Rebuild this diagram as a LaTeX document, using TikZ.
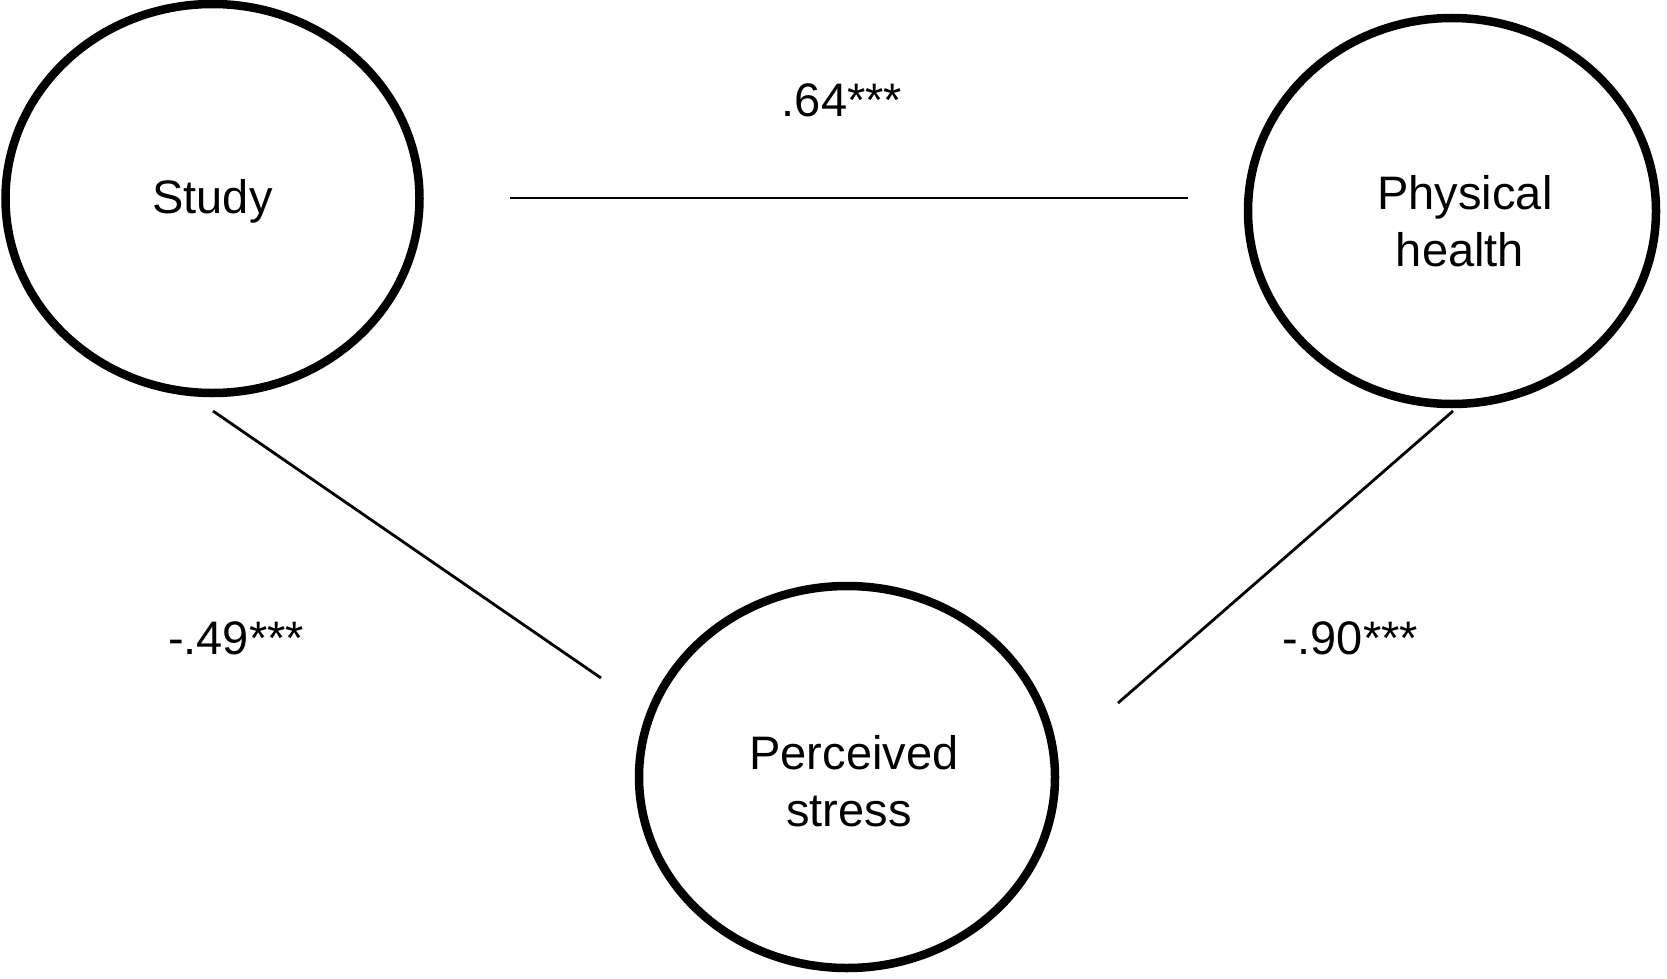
\documentclass[tikz,border=0pt]{standalone}
\usepackage{fontspec}
\setmainfont{Liberation Sans}
\usetikzlibrary{shapes.geometric}
\begin{document}
\begin{tikzpicture}[x=1pt,y=-1pt,
  latent/.style={ellipse,draw=black,line width=8.5pt,inner sep=0pt},
  nametext/.style={align=center,inner sep=0pt,font=\fontsize{47}{57}\selectfont},
  coef/.style={anchor=base,inner sep=0pt,font=\fontsize{47}{57}\selectfont},
  path/.style={draw=black,line width=2.8pt}]
\useasboundingbox (0,0) rectangle (1667,979);
\node[latent,minimum width=414pt,minimum height=389pt,
  label={[nametext,yshift=-3pt]center:Study}] (study) at (212.5,198.5) {};
\node[latent,minimum width=408pt,minimum height=386pt,
  label={[nametext,xshift=8pt,yshift=-10pt]center:\hspace*{10pt}Physical\\health}] (health) at (1452,211) {};
\node[latent,minimum width=416pt,minimum height=382pt,
  label={[nametext,xshift=2pt,yshift=-4pt]center:\hspace*{10pt}Perceived\\stress}] (stress) at (847,777) {};
\coordinate (h1) at (510,198);
\coordinate (h2) at (1188,198);
\coordinate (l1) at (213,411);
\coordinate (l2) at (601,678);
\coordinate (r1) at (1453,411);
\coordinate (r2) at (1118,703);
\draw[path] (h1) -- (h2);
\draw[path] (l1) -- (l2);
\draw[path] (r1) -- (r2);
\node[coef] (c64) at (842,117) {.64***};
\node[coef] (c49) at (236,654) {-.49***};
\node[coef] (c90) at (1350,654) {-.90***};
\end{tikzpicture}
\end{document}
